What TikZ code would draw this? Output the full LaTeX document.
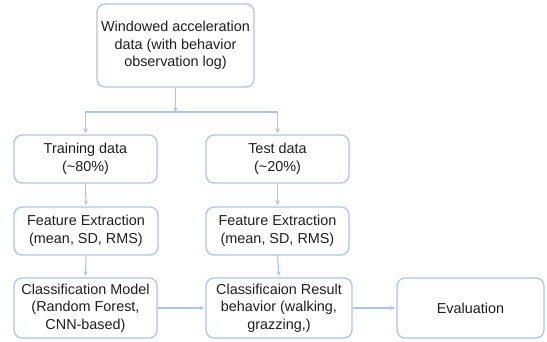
\documentclass[tikz,border=0pt]{standalone}
\usepackage{fontspec}
\setmainfont{Liberation Sans}
\usetikzlibrary{arrows.meta}
\definecolor{edgeblue}{HTML}{A8C6EE}
\definecolor{inkgrey}{HTML}{1E1E1E}
\tikzset{
  flowbox/.style={draw=edgeblue, line width=1.3pt, rounded corners=8pt,
    fill=white, text=inkgrey, align=center, inner sep=0pt,
    font=\fontsize{14.4}{17.5}\selectfont},
  flowarrow/.style={draw=edgeblue, line width=1.1pt, shorten >=1.5pt,
    -{Stealth[length=4.5pt,width=4.5pt]}},
}
\begin{document}
\begin{tikzpicture}[x=1pt,y=-1pt]
  \useasboundingbox (0,0) rectangle (547,341);

  % boxes (centre, size)
  \node[flowbox, minimum width=157pt, minimum height=83pt] (raw) at (175.5,45.5)
    {Windowed acceleration\\data (with behavior\\observation log)};
  \node[flowbox, minimum width=143pt, minimum height=48pt] (train) at (85.5,159)
    {Training data\\(\textasciitilde80\%)};
  \node[flowbox, minimum width=143pt, minimum height=48pt] (test) at (277.5,159)
    {Test data\\(\textasciitilde20\%)};
  \node[flowbox, minimum width=144pt, minimum height=48pt] (featL) at (86,231)
    {Feature Extraction\\(mean, SD, RMS)};
  \node[flowbox, minimum width=143pt, minimum height=48pt] (featR) at (277.5,231)
    {Feature Extraction\\(mean, SD, RMS)};
  \node[flowbox, minimum width=143pt, minimum height=60pt] (model) at (85.5,308)
    {Classification Model\\(Random Forest,\\CNN-based)};
  \node[flowbox, minimum width=146pt, minimum height=60pt] (result) at (279,308)
    {Classificaion Result\\behavior (walking,\\grazzing,)};
  \node[flowbox, minimum width=147pt, minimum height=60pt] (eval) at (470.5,308)
    {Evaluation};

  % split point below the data box
  \coordinate (split) at (175.5,112);

  % connectors
  \draw[flowarrow, shorten >=0pt] (raw.south) -- (split);
  \draw[flowarrow] (split) -| (train.north);
  \draw[flowarrow] (split) -| (test.north);
  \draw[flowarrow] (train.south) -- (featL.north);
  \draw[flowarrow] (test.south) -- (featR.north);
  \draw[flowarrow] (featL.south) -- (model.north);
  \draw[flowarrow] (featR.south) -- (result.north);
  \draw[flowarrow] (model.east) -- (result.west);
  \draw[flowarrow] (result.east) -- (eval.west);
\end{tikzpicture}
\end{document}
